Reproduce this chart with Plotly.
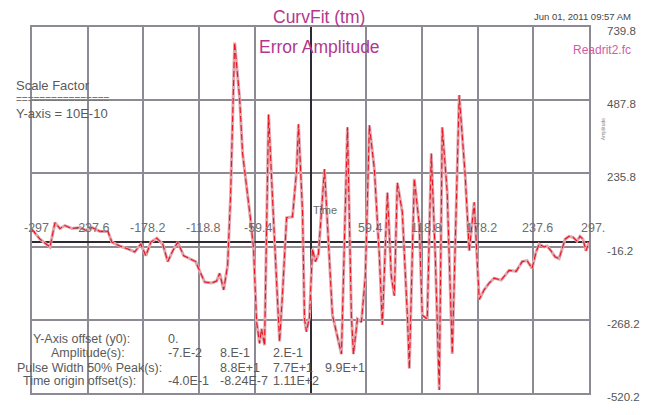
import plotly.graph_objects as go

# ---- data ----
time_vals = [-297.0, -288.5, -277.8, -272.5, -267.2, -261.9, -254.4, -245.9, -239.5, -233.1,
             -224.6, -216.1, -211.8, -203.3, -194.8, -187.4, -181.0, -175.6, -170.3, -163.9,
             -157.6, -152.2, -146.9, -141.6, -135.2, -128.8, -122.4, -117.1, -112.8, -105.4,
             -100.1, -96.9, -92.6, -88.4, -85.2, -80.9, -75.6, -72.4, -67.1, -63.9,
             -60.7, -57.5, -54.3, -52.2, -49.0, -44.7, -39.4, -33.0, -29.8, -25.5,
             -19.2, -14.9, -12.8, -8.5, -6.4, -4.3, -1.1, 2.1, 5.3, 8.5,
             14.9, 23.4, 33.0, 39.4, 43.6, 45.8, 50.0, 54.3, 58.5, 62.8,
             68.1, 73.5, 76.6, 82.0, 86.2, 89.4, 92.6, 97.9, 103.3, 105.4,
             110.7, 116.0, 119.2, 124.5, 128.8, 133.1, 137.3, 140.5, 145.8, 151.2,
             158.6, 165.0, 169.3, 174.6, 179.9, 185.2, 190.6, 195.9, 203.3, 211.8,
             219.3, 225.7, 231.0, 236.3, 240.6, 243.8, 249.1, 252.3, 256.5, 260.8,
             265.1, 268.3, 271.5, 275.7, 280.0, 284.2, 287.4, 290.6, 293.8, 297.0]
error_vals = [42.8, 9.3, -17.5, 66.2, 46.1, 56.2, 46.1, 49.5, 39.4, 49.5,
              36.1, 36.1, -0.8, -14.2, -24.2, -34.3, -7.5, -47.7, -0.8, 12.6,
              -7.5, -67.8, -30.9, -0.8, -47.7, -57.7, -67.8, -108.0, -138.2, -141.5,
              -134.8, -108.0, -165.0, -81.2, 160.1, 686.2, 495.2, 304.2, 170.1, 76.3,
              -24.2, -275.6, -349.3, -299.0, -356.0, 438.2, 76.3, -342.6, -175.0, 83.0,
              86.4, 243.8, 404.7, 103.1, -265.5, -309.1, -258.8, -24.2, -67.8, -41.0,
              250.6, -252.1, -386.1, 394.6, -252.1, -386.1, -265.5, -275.6, -118.1, 401.3,
              250.6, -51.0, -285.6, 170.1, -118.1, -185.1, 203.6, 103.1, -252.1, -436.4,
              217.0, 59.5, -252.1, -265.5, 304.2, -51.0, -510.1, 394.6, 170.1, -386.1,
              505.2, 227.1, -30.9, 136.6, -198.5, -165.0, -141.5, -124.8, -131.5, -98.0,
              -101.3, -67.8, -64.4, -91.2, -34.3, -7.5, -17.5, -14.2, -30.9, -51.0,
              -57.7, -24.2, 9.3, 19.3, 16.0, 2.6, 19.3, 9.3, -30.9, -0.8]

x_ticks = [-297, -237.6, -178.2, -118.8, -59.4, 0, 59.4, 118.8, 178.2, 237.6, 297]
x_tick_labels = ["-297", "-237.6", "-178.2", "-118.8", "-59.4", "", "59.4", "118.8", "178.2", "237.6", "297."]
y_ticks = [739.8, 487.8, 235.8, -16.2, -268.2, -520.2]
y_tick_labels = ["739.8", "487.8", "235.8", "-16.2", "-268.2", "-520.2"]

param_labels = ["Y-Axis offset (y0):", "Amplitude(s):", "Pulse Width 50% Peak(s):", "Time origin offset(s):"]
param_values = [["0.", "", "", ""],
                ["-7.E-2", "8.E-1", "2.E-1", ""],
                ["", "8.8E+1", "7.7E+1", "9.9E+1"],
                ["-4.0E-1", "-8.24E-7", "1.11E+2", ""]]

# ---- layout geometry ----
W, H = 652, 415
L, R, T, B = 32, 62, 27, 12
PW, PH = W - L - R, H - T - B
FONT = "Liberation Sans, Arial, sans-serif"
GRID = "#8e8a94"
TXT = "#5a5a5a"
MAG = "#b2388f"


def px(xp):
    return (xp - L) / PW


def py(yp):
    return (H - B - yp) / PH


fig = go.Figure()
fig.add_trace(go.Scatter(x=time_vals, y=error_vals, mode="lines",
                         line=dict(color="#dfa6af", width=3.0), hoverinfo="skip"))
fig.add_trace(go.Scatter(x=time_vals, y=error_vals, mode="lines",
                         line=dict(color="#e8141e", width=1.1, dash="6px,3px")))

ann = []
# x tick labels inside the plot
for v, t in zip(x_ticks, x_tick_labels):
    if t:
        ann.append(dict(x=v, y=py(233), xref="x", yref="paper", text=t, xanchor="center",
                        xshift=4, font=dict(family=FONT, size=12.5, color="#6e6e6e")))

ann += [
    dict(x=px(320), y=py(17), text="CurvFit (tm)", xanchor="center",
         font=dict(family=FONT, size=17.5, color=MAG)),
    dict(x=px(320), y=py(48), text="Error Amplitude", xanchor="center",
         font=dict(family=FONT, size=17.5, color=MAG)),
    dict(x=px(634), y=py(16), text="Jun 01, 2011 09:57 AM", xanchor="right",
         font=dict(family=FONT, size=9.5, color="#444")),
    dict(x=px(572), y=py(51), text="Readrit2.fc", xanchor="left",
         font=dict(family=FONT, size=12, color="#d45aa6")),
    dict(x=px(14), y=py(87), text="Scale Factor", xanchor="left",
         font=dict(family=FONT, size=13, color=TXT)),
    dict(x=px(14), y=py(101), text="================", xanchor="left",
         font=dict(family=FONT, size=10, color="#777")),
    dict(x=px(14), y=py(116), text="Y-axis = 10E-10", xanchor="left",
         font=dict(family=FONT, size=13, color=TXT)),
    dict(x=px(312), y=py(215), text="Time", xanchor="left",
         font=dict(family=FONT, size=11, color="#6a6a6a")),
    dict(x=px(604), y=py(132), text="Amplitude", xanchor="center", textangle=-90,
         font=dict(family=FONT, size=5, color="#8a8a8a")),
]

row_y = [348, 362, 377, 391]
row_centers = [82, 88, 90, 80]
col_x = [166, 218, 271, 324]
for r, (lab, vals) in enumerate(zip(param_labels, param_values)):
    ann.append(dict(x=px(row_centers[r]), y=py(row_y[r]), text=lab, xanchor="center",
                    font=dict(family=FONT, size=12.5, color=TXT)))
    for c, v in enumerate(vals):
        if v:
            ann.append(dict(x=px(col_x[c]), y=py(row_y[r]), text=v, xanchor="left",
                            font=dict(family=FONT, size=12.5, color=TXT)))

for a in ann:
    a.setdefault("xref", "paper")
    a.setdefault("yref", "paper")
    a.setdefault("yanchor", "middle")
    a.setdefault("showarrow", False)

fig.update_layout(
    width=W, height=H,
    margin=dict(l=L, r=R, t=T, b=B, pad=0),
    paper_bgcolor="white", plot_bgcolor="white",
    showlegend=False,
    annotations=ann,
    xaxis=dict(range=[-297, 297], tickvals=x_ticks, showticklabels=False, ticks="",
               showgrid=True, gridcolor=GRID, gridwidth=1.5,
               zeroline=True, zerolinecolor="#2e2a33", zerolinewidth=2,
               showline=True, linecolor=GRID, linewidth=1.5, mirror=True, fixedrange=True),
    yaxis=dict(range=[-520.2, 739.8], tickvals=y_ticks, ticktext=y_tick_labels, side="right",
               ticks="", ticklabelstandoff=14, ticklabelshift=4,
               tickfont=dict(family=FONT, size=11.5, color="#555"),
               showgrid=True, gridcolor=GRID, gridwidth=1.5,
               zeroline=True, zerolinecolor="#2e2a33", zerolinewidth=2,
               showline=True, linecolor=GRID, linewidth=1.5, mirror=True, fixedrange=True),
)

fig.write_html("out.html", config={"displayModeBar": False},
               post_script="document.body.style.margin='0px';")
